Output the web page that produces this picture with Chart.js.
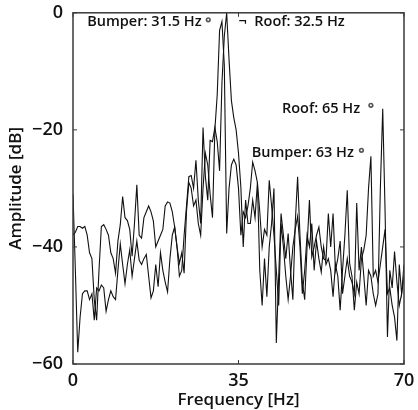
<!DOCTYPE html>
<html>
<head>
<meta charset="utf-8">
<script src="https://cdn.jsdelivr.net/npm/chart.js@4"></script>
<style>
  html, body { margin: 0; padding: 0; background: #fff; }
  #wrap { width: 418px; height: 410px; }
</style>
</head>
<body>
<div id="wrap"><canvas id="spec"></canvas></div>
<script>
// ===== vibration spectra, bumper vs roof =====

// frequency grid, 0..70 Hz in 0.5 Hz steps
const freqs = Array.from({ length: 141 }, (_, i) => i * 0.5);

const bumperDb = [
  -31, -44, -58, -52, -48, -47.5, -47.5, -49, -48, -52.5,
  -47, -47.5, -46.5, -47, -51, -49, -47.5, -48.5, -49, -44,
  -39.5, -43, -46.3, -43, -40.5, -45, -42, -39, -42.3, -43,
  -42, -41.3, -45, -48.7, -47.5, -43, -46.8, -41, -44, -46,
  -47.7, -42, -38, -36.6, -40, -42.8, -41, -44.5, -34, -29,
  -30, -33, -32, -36, -38, -30, -24, -26, -31, -35,
  -20, -14, -3, -1.5, -9, -37.7, -30, -26, -25, -26,
  -30, -38, -34, -35, -33, -30, -25.5, -27, -29, -34,
  -40, -37, -38, -28.6, -33, -38, -44, -50, -36, -40,
  -45, -49, -45, -40, -37, -34.8, -40, -48, -44, -38,
  -40, -36, -44, -39, -42, -44.3, -40, -43, -42, -44,
  -48.5, -43, -45, -50.8, -44, -38, -30.3, -42.8, -45, -50.8,
  -46, -48, -42, -40.5, -38, -30, -24.5, -45, -44, -46,
  -43, -40, -37, -48, -47, -50, -52, -56, -43, -48,
  -45
];

const roofDb = [
  -38, -37.5, -36.5, -36.5, -36.8, -36.5, -38, -41, -42, -49,
  -52.5, -44, -36.5, -36.2, -37, -38, -41, -42, -44.5, -39,
  -36.2, -31.4, -35, -35.5, -37, -41.6, -36, -29.4, -38, -38.5,
  -35, -34, -33, -34, -35.6, -40, -39, -38, -37, -33,
  -32.3, -32.5, -34, -36.6, -40, -45, -44, -38, -33, -28,
  -27.8, -30, -25.2, -32, -36, -19.6, -28, -32, -21.8, -22,
  -19.6, -22, -27, -12, -4, 0, -8, -15, -17.9, -20,
  -24, -29.8, -40, -32, -36, -36, -32, -35, -29, -44,
  -50, -42, -48.5, -40, -36, -30, -56.4, -45, -34.3, -38,
  -42, -37.7, -44, -49, -36, -28, -38, -46, -49, -40,
  -32, -41.7, -40, -38, -36.6, -40, -42, -42.3, -34.3, -40,
  -34.3, -44, -42, -39, -48, -45, -42, -45, -46, -48,
  -32.5, -44, -40, -45, -50, -44, -45, -48, -50, -48,
  -30, -16.4, -34, -55.4, -44, -47, -40.8, -46, -50, -48,
  -43
];

const xTicks = [0, 35, 70];
const yTicks = [0, -20, -40, -60];

// peak labels, placed in data units
const notes = [
  { text: 'Bumper: 31.5 Hz', f: 3.0, db: -1.6, mark: [28.6, -1.2] },
  { text: '\u00ac  Roof: 32.5 Hz', f: 35.0, db: -1.6, mark: null },
  { text: 'Roof: 65 Hz', f: 44.2, db: -16.4, mark: [63.0, -15.8] },
  { text: 'Bumper: 63 Hz', f: 37.8, db: -24.0, mark: [61.0, -23.5] }
];

const FONT = '"Open Sans", "Noto Sans", sans-serif';
const AXIS = '#3a3a3a';

const toPts = arr => arr.map((v, i) => ({ x: freqs[i], y: v }));

const frame = {
  id: 'frame',
  afterDatasetsDraw(chart) {
    const { ctx, chartArea: a, scales: { x, y } } = chart;
    ctx.save();
    ctx.strokeStyle = AXIS;
    ctx.lineWidth = 1.5;
    ctx.strokeRect(a.left, a.top, a.right - a.left, a.bottom - a.top);
    ctx.lineWidth = 1;
    ctx.beginPath();
    xTicks.forEach(v => {
      const px = x.getPixelForValue(v);
      ctx.moveTo(px, a.bottom); ctx.lineTo(px, a.bottom - 4);
      ctx.moveTo(px, a.top); ctx.lineTo(px, a.top + 4);
    });
    yTicks.forEach(v => {
      const py = y.getPixelForValue(v);
      ctx.moveTo(a.left, py); ctx.lineTo(a.left + 4, py);
      ctx.moveTo(a.right, py); ctx.lineTo(a.right - 4, py);
    });
    ctx.stroke();

    ctx.fillStyle = '#111';
    ctx.font = '600 14.5px ' + FONT;
    ctx.textBaseline = 'middle';
    ctx.textAlign = 'left';
    notes.forEach(n => {
      ctx.fillText(n.text, x.getPixelForValue(n.f), y.getPixelForValue(n.db));
      if (n.mark) {
        const mx = x.getPixelForValue(n.mark[0]), my = y.getPixelForValue(n.mark[1]);
        ctx.beginPath();
        ctx.arc(mx, my, 2.6, 0, Math.PI * 2);
        ctx.fillStyle = '#555';
        ctx.fill();
        ctx.beginPath();
        ctx.arc(mx, my, 1, 0, Math.PI * 2);
        ctx.fillStyle = '#fff';
        ctx.fill();
        ctx.fillStyle = '#111';
      }
    });
    ctx.restore();
  }
};

const lineStyle = { borderColor: '#111', borderWidth: 1.1, pointRadius: 0, tension: 0, fill: false };

new Chart(document.getElementById('spec'), {
  type: 'line',
  data: {
    datasets: [
      { label: 'Bumper', data: toPts(bumperDb), ...lineStyle },
      { label: 'Roof', data: toPts(roofDb), ...lineStyle }
    ]
  },
  options: {
    responsive: true,
    maintainAspectRatio: false,
    animation: false,
    layout: { padding: { top: 12, right: 14, bottom: 0, left: 6 } },
    plugins: { legend: { display: false }, tooltip: { enabled: false } },
    scales: {
      x: {
        type: 'linear', min: 0, max: 70,
        afterBuildTicks: s => { s.ticks = xTicks.map(v => ({ value: v })); },
        afterFit: s => { s.height = 46; },
        grid: { display: false },
        border: { display: false },
        ticks: { color: '#111', font: { family: FONT, size: 18, weight: '600' }, padding: -2, maxRotation: 0 },
        title: { display: true, text: 'Frequency [Hz]', color: '#111', font: { family: FONT, size: 17, weight: '600' }, padding: 0 }
      },
      y: {
        type: 'linear', min: -60, max: 0,
        afterBuildTicks: s => { s.ticks = yTicks.map(v => ({ value: v })); },
        afterFit: s => { s.width = 67; },
        grid: { display: false },
        border: { display: false },
        ticks: {
          color: '#111', font: { family: FONT, size: 18, weight: '600' }, padding: 2,
          callback: v => String(v).replace('-', '\u2212')
        },
        title: { display: true, text: 'Amplitude [dB]', color: '#111', font: { family: FONT, size: 17, weight: '600' }, padding: 0 }
      }
    }
  },
  plugins: [frame]
});
</script>
</body>
</html>
